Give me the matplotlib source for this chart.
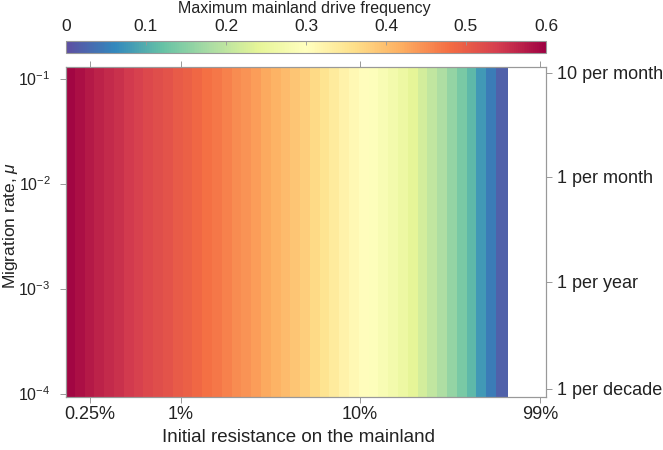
import numpy as np
import matplotlib.pyplot as plt

plt.rcParams['font.family'] = ['Liberation Sans', 'DejaVu Sans']
plt.rcParams['font.size'] = 13
plt.rcParams['mathtext.fontset'] = 'custom'
plt.rcParams['mathtext.rm'] = 'Liberation Sans'
plt.rcParams['mathtext.it'] = 'Liberation Sans:italic'
plt.rcParams['axes.unicode_minus'] = False
plt.rcParams['text.color'] = '#222222'
plt.rcParams['axes.labelcolor'] = '#222222'
plt.rcParams['xtick.color'] = '#999999'
plt.rcParams['ytick.color'] = '#999999'
plt.rcParams['xtick.labelcolor'] = '#222222'
plt.rcParams['ytick.labelcolor'] = '#222222'

# max mainland drive frequency, one value per resistance column (left -> right)
freq = [0.595, 0.585, 0.575, 0.567, 0.559, 0.551, 0.543, 0.535, 0.527, 0.519,
        0.511, 0.503, 0.495, 0.487, 0.478, 0.470, 0.461, 0.452, 0.443, 0.434,
        0.424, 0.414, 0.404, 0.393, 0.380, 0.366, 0.352, 0.338, 0.325, 0.314,
        0.303, 0.293, 0.282, 0.270, 0.256, 0.240, 0.222, 0.203, 0.183, 0.160,
        0.137, 0.112, 0.078, 0.048, 0.020]
# migration rate range (log10)
mu_log = [-4.03, -0.89]

x_tick_labels = ['0.25%', '1%', '10%', '99%']
x_tick_pos = [2.45, 11.73, 30.0, 48.4]          # in column units
y_ticks = [1e-1, 1e-2, 1e-3, 1e-4]
y_tick_labels = ['$10^{-1}$', '$10^{-2}$', '$10^{-3}$', '$10^{-4}$']
right_tick_log = [-0.947, -1.937, -2.937, -3.952]
right_tick_labels = ['10 per month', '1 per month', '1 per year', '1 per decade']
cb_ticks = [0, 0.1, 0.2, 0.3, 0.4, 0.5, 0.6]
cb_tick_labels = ['0', '0.1', '0.2', '0.3', '0.4', '0.5', '0.6']

W, H = 663, 450
fig = plt.figure(figsize=(W/100, H/100), dpi=100)
ax = fig.add_axes([66/W, 1-396.7/H, 480/W, 329.7/H])

x_edges = np.arange(len(freq)+1)
y_edges = 10.0**np.array(mu_log)
Z = np.array(freq)[None, :]
mesh = ax.pcolormesh(x_edges, y_edges, Z, cmap='Spectral_r', vmin=0, vmax=0.6,
                     shading='flat', edgecolors='face', linewidth=0.3)
ax.set_yscale('log')
ax.set_xlim(0, 49)
ax.set_ylim(y_edges[0], y_edges[1])
ax.set_xticks(x_tick_pos)
ax.set_xticklabels(x_tick_labels, fontsize=13)
ax.set_yticks(y_ticks)
ax.set_yticklabels(y_tick_labels, fontsize=11.5)
ax.yaxis.set_minor_locator(plt.NullLocator())
ax.tick_params(direction='out', length=4, width=0.7, top=True)
ax.tick_params(axis='x', pad=3)
ax.tick_params(axis='y', pad=7)
ax.set_xlabel('Initial resistance on the mainland', fontsize=13.5)
ax.xaxis.set_label_coords(0.485, -0.098)
ax.set_ylabel('Migration rate, $\\mu$', fontsize=12.5)
ax.yaxis.set_label_coords(-0.095, 0.52)
for d in ['top', 'bottom', 'left', 'right']:
    ax.spines[d].set_color('#999999')
    ax.spines[d].set_linewidth(0.8)

ax2 = ax.twinx()
ax2.set_yscale('log')
ax2.set_ylim(y_edges[0], y_edges[1])
ax2.set_yticks(10.0**np.array(right_tick_log))
ax2.set_yticklabels(right_tick_labels, fontsize=13)
ax2.yaxis.set_minor_locator(plt.NullLocator())
ax2.tick_params(direction='out', length=4, width=0.7, pad=4)
for d in ['top', 'bottom', 'left', 'right']:
    ax2.spines[d].set_color('#999999')
    ax2.spines[d].set_linewidth(0.8)

cax = fig.add_axes([66/W, 1-53/H, 480/W, 12.5/H])
cb = fig.colorbar(mesh, cax=cax, orientation='horizontal', ticks=cb_ticks)
cax.xaxis.set_ticks_position('top')
cax.set_xticklabels(cb_tick_labels, fontsize=12.5)
cax.tick_params(direction='in', length=3, width=0.6, pad=5)
cb.outline.set_edgecolor('#999999')
cb.outline.set_linewidth(0.8)
fig.text(304/W, 1-8.5/H, 'Maximum mainland drive frequency', fontsize=11.5,
         ha='center', va='center')

plt.savefig('out.png', dpi=100)
plt.close()
